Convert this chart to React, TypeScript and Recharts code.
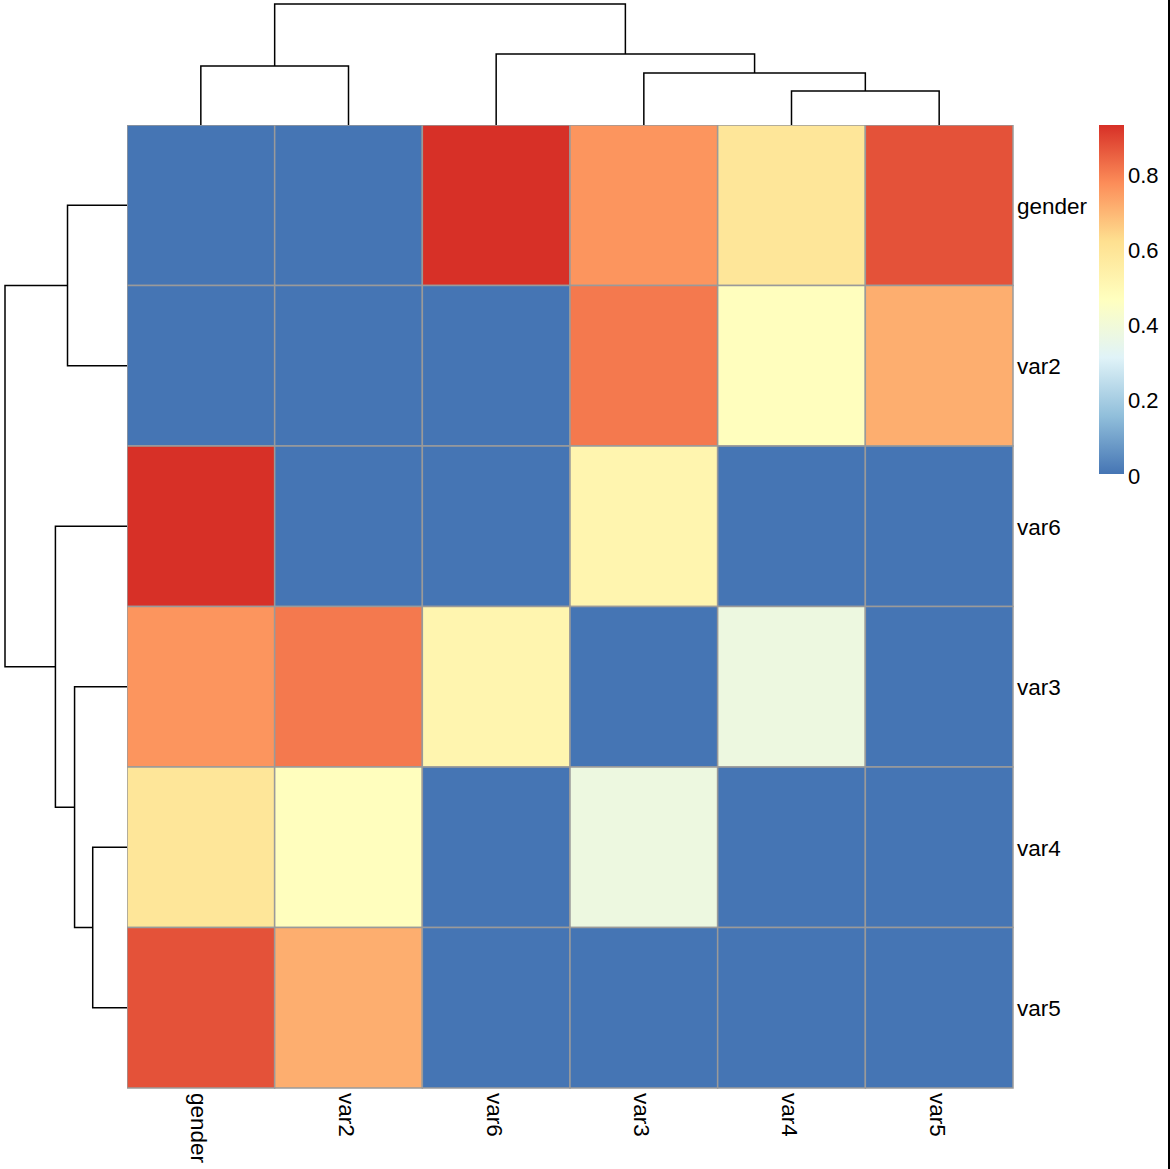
import React from "react";
import { ComposedChart, LineChart, Line, XAxis, YAxis, ReferenceArea, Scatter } from "recharts";

const labels = ["gender", "var2", "var6", "var3", "var4", "var5"];

// matrix rows, same order as labels
const rowGender = [0, 0, 0.93, 0.76, 0.59, 0.87];
const rowVar2 = [0, 0, 0, 0.8, 0.47, 0.71];
const rowVar6 = [0.93, 0, 0, 0.52, 0, 0];
const rowVar3 = [0.76, 0.8, 0.52, 0, 0.38, 0];
const rowVar4 = [0.59, 0.47, 0, 0.38, 0, 0];
const rowVar5 = [0.87, 0.71, 0, 0, 0, 0];
const matrix = [rowGender, rowVar2, rowVar6, rowVar3, rowVar4, rowVar5];

const valueMax = 0.93;
const legendTicks = [0, 0.2, 0.4, 0.6, 0.8];

// hclust merges (same tree for rows and columns)
const merges = [
  { id: "m1", a: "var4", b: "var5", h: 0.34 },
  { id: "m2", a: "var3", b: "m1", h: 0.52 },
  { id: "m3", a: "gender", b: "var2", h: 0.59 },
  { id: "m4", a: "var6", b: "m2", h: 0.71 },
  { id: "m5", a: "m3", b: "m4", h: 1.21 },
];
const rootH = 1.21;

// rev(brewer.pal(7, "RdYlBu"))
const palette = ["#4575B4", "#91BFDB", "#E0F3F8", "#FFFFBF", "#FEE090", "#FC8D59", "#D73027"];

const FONT = '"Liberation Sans", Arial, sans-serif';
const CELL_W = 886;
const CELL_H = 963;

const hex = (c: string) => [1, 3, 5].map((i) => parseInt(c.slice(i, i + 2), 16));
const ramp = (s: number) => {
  // s in [0,1] along the palette
  const pos = Math.max(0, Math.min(1, s)) * (palette.length - 1);
  const i = Math.min(palette.length - 2, Math.floor(pos));
  const f = pos - i;
  const a = hex(palette[i]);
  const b = hex(palette[i + 1]);
  const m = a.map((v, k) => Math.round(v + (b[k] - v) * f));
  return `rgb(${m[0]},${m[1]},${m[2]})`;
};
// 100 colour bins like pheatmap
const colorFor = (v: number) => {
  const idx = Math.min(99, Math.floor((v / valueMax) * 100));
  return ramp(idx / 99);
};

const cells = matrix.flatMap((row, r) => row.map((v, c) => ({ r, c, v })));

// dendrogram node positions from the leaf order
const nodePos: Record<string, { p: number; h: number }> = {};
labels.forEach((l, i) => (nodePos[l] = { p: i + 0.5, h: 0 }));
const dendroLines = merges.map((m) => {
  const A = nodePos[m.a];
  const B = nodePos[m.b];
  nodePos[m.id] = { p: (A.p + B.p) / 2, h: m.h };
  return [
    { p: A.p, h: A.h },
    { p: A.p, h: m.h },
    { p: B.p, h: m.h },
    { p: B.p, h: B.h },
  ];
});

const RightTick = ({ x, y, payload }: any) => (
  <text x={x} y={y} dy={1} textAnchor="start" dominantBaseline="central" fontSize={22.5} fill="#000" fontFamily={FONT}>
    {labels[Math.floor(payload.value)]}
  </text>
);

const BottomTick = ({ x, y, payload }: any) => (
  <text
    x={x}
    y={y}
    dy={2}
    transform={`rotate(90, ${x}, ${y})`}
    textAnchor="start"
    dominantBaseline="central"
    fontSize={22.5}
    fill="#000"
    fontFamily={FONT}
  >
    {labels[Math.floor(payload.value)]}
  </text>
);

const LegendTick = ({ x, y, payload }: any) => (
  <text x={x} y={y} dy={2} textAnchor="start" dominantBaseline="central" fontSize={22} fill="#000" fontFamily={FONT}>
    {payload.value}
  </text>
);

const centers = labels.map((_, i) => i + 0.5);

export default function App() {
  return (
    <div style={{ position: "absolute", left: 0, top: 0, width: 1170, height: 1169, background: "#fff", fontFamily: FONT }}>
      {/* column dendrogram */}
      <div style={{ position: "absolute", left: 127, top: 0 }}>
        <LineChart width={CELL_W} height={125} margin={{ top: 4, right: 0, bottom: 0, left: 0 }}>
          <XAxis hide type="number" dataKey="p" domain={[0, 6]} />
          <YAxis hide type="number" domain={[0, rootH]} />
          {dendroLines.map((seg, i) => (
            <Line key={i} data={seg} dataKey="h" type="linear" stroke="#000" strokeWidth={1.5} dot={false} isAnimationActive={false} />
          ))}
        </LineChart>
      </div>

      {/* row dendrogram */}
      <div style={{ position: "absolute", left: 0, top: 125 }}>
        <LineChart width={127} height={CELL_H} margin={{ top: 0, right: 0, bottom: 0, left: 5 }}>
          <XAxis hide type="number" dataKey="h" domain={[0, rootH]} reversed />
          <YAxis hide type="number" domain={[0, 6]} reversed />
          {dendroLines.map((seg, i) => (
            <Line key={i} data={seg} dataKey="p" type="linear" stroke="#000" strokeWidth={1.5} dot={false} isAnimationActive={false} />
          ))}
        </LineChart>
      </div>

      {/* heatmap */}
      <div style={{ position: "absolute", left: 127, top: 125 }}>
        <ComposedChart width={CELL_W + 80} height={CELL_H + 80} margin={{ top: 0, right: 0, bottom: 0, left: 0 }}>
          <XAxis
            type="number"
            dataKey="x"
            domain={[0, 6]}
            ticks={centers}
            interval={0}
            height={80}
            axisLine={false}
            tickLine={false}
            tickSize={0}
            tickMargin={5}
            tick={<BottomTick />}
          />
          <YAxis
            type="number"
            dataKey="y"
            orientation="right"
            domain={[0, 6]}
            reversed
            ticks={centers}
            interval={0}
            width={80}
            axisLine={false}
            tickLine={false}
            tickSize={0}
            tickMargin={4}
            tick={<RightTick />}
          />
          {cells.map((d) => (
            <ReferenceArea
              key={`${d.r}-${d.c}`}
              x1={d.c}
              x2={d.c + 1}
              y1={d.r}
              y2={d.r + 1}
              fill={colorFor(d.v)}
              fillOpacity={1}
              stroke="#9a9a9a"
              strokeWidth={1.5}
            />
          ))}
          <Scatter data={cells.map((d) => ({ x: d.c + 0.5, y: d.r + 0.5 }))} shape={() => <g />} isAnimationActive={false} />
        </ComposedChart>
      </div>

      {/* colour legend */}
      <div style={{ position: "absolute", left: 1099, top: 125 }}>
        <ComposedChart width={70} height={349 + 14} margin={{ top: 0, right: 0, bottom: 14, left: 0 }}>
          <defs>
            <linearGradient id="legendGrad" x1="0" y1="1" x2="0" y2="0">
              {palette.map((c, i) => (
                <stop key={c} offset={i / (palette.length - 1)} stopColor={c} />
              ))}
            </linearGradient>
          </defs>
          <XAxis hide type="number" dataKey="x" domain={[0, 1]} />
          <YAxis
            type="number"
            dataKey="y"
            orientation="right"
            domain={[0, valueMax]}
            ticks={legendTicks}
            interval={0}
            width={45}
            axisLine={false}
            tickLine={false}
            tickSize={0}
            tickMargin={4}
            tick={<LegendTick />}
          />
          <ReferenceArea x1={0} x2={1} y1={0} y2={valueMax} fill="url(#legendGrad)" fillOpacity={1} stroke="none" />
          <Scatter data={[{ x: 0.5, y: 0 }]} shape={() => <g />} isAnimationActive={false} />
        </ComposedChart>
      </div>

      <div style={{ position: "absolute", left: 1168, top: 0, width: 2, height: 1169, background: "#000" }} />
    </div>
  );
}
